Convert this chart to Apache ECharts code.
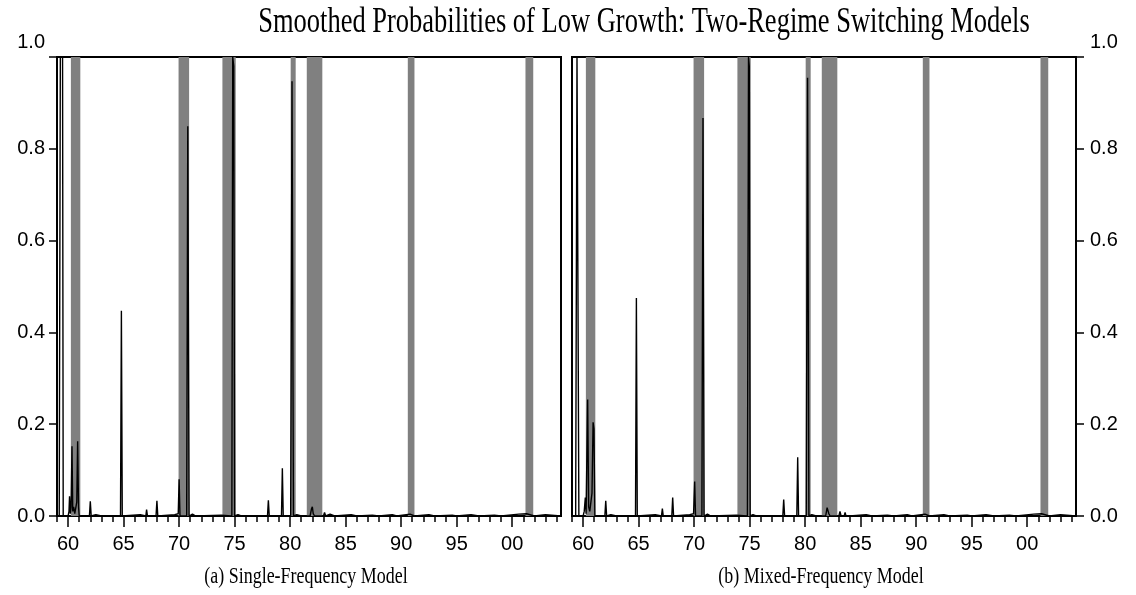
<!DOCTYPE html>
<html>
<head>
<meta charset="utf-8">
<script src="https://cdn.jsdelivr.net/npm/echarts@6/dist/echarts.min.js"></script>
<style>
html, body { margin: 0; padding: 0; background: #fff; }
#chart { width: 1136px; height: 595px; }
</style>
</head>
<body>
<div id="chart"></div>
<script>
// tick years
var majorYears = [1960, 1965, 1970, 1975, 1980, 1985, 1990, 1995, 2000];
var minorYears = [1959, 1960, 1961, 1962, 1963, 1964, 1965, 1966, 1967, 1968, 1969, 1970, 1971, 1972, 1973, 1974, 1975, 1976, 1977, 1978, 1979, 1980, 1981, 1982, 1983, 1984, 1985, 1986, 1987, 1988, 1989, 1990, 1991, 1992, 1993, 1994, 1995, 1996, 1997, 1998, 1999, 2000, 2001, 2002, 2003, 2004];

// shaded recessions [start, end]
var recessions = [[1960.25, 1961.1], [1969.95, 1970.9], [1973.9, 1975.1], [1980.05, 1980.5], [1981.5, 1982.9], [1990.6, 1991.2], [2001.2, 2001.9]];

// smoothed probabilities, (a) single-frequency
var probSingle = [
  [1959.2, 0], [1959.3, 1.0], [1959.5, 1.0], [1959.56, 0],
  [1960.0, 0], [1960.08, 0.01], [1960.13, 0.043], [1960.2, 0.005], [1960.27, 0.02], [1960.35, 0.152], [1960.42, 0.01],
  [1960.5, 0.02], [1960.6, 0.005], [1960.78, 0.03], [1960.86, 0.163], [1960.94, 0.02], [1961.0, 0],
  [1961.92, 0], [1962.0, 0.032], [1962.08, 0], [1962.5, 0.003], [1963.0, 0],
  [1964.72, 0], [1964.8, 0.447], [1964.88, 0],
  [1966.5, 0.003], [1967.0, 0], [1967.07, 0.014], [1967.15, 0],
  [1967.92, 0], [1968.0, 0.033], [1968.08, 0],
  [1969.6, 0.003], [1969.92, 0.005], [1970.0, 0.08], [1970.08, 0],
  [1970.68, 0], [1970.78, 0.849], [1970.9, 0], [1971.2, 0.004], [1971.5, 0],
  [1973.8, 0.002], [1974.75, 0], [1974.83, 1.0], [1974.92, 0.98], [1975.0, 0], [1975.3, 0.003], [1975.6, 0],
  [1977.96, 0], [1978.04, 0.034], [1978.12, 0],
  [1979.22, 0], [1979.3, 0.104], [1979.38, 0],
  [1980.05, 0], [1980.17, 0.947], [1980.3, 0], [1980.6, 0.003], [1981.0, 0],
  [1981.8, 0], [1981.92, 0.015], [1982.0, 0.02], [1982.08, 0.005], [1982.2, 0],
  [1983.0, 0], [1983.1, 0.008], [1983.2, 0], [1983.6, 0.004], [1984.0, 0],
  [1985.5, 0.003], [1986.0, 0], [1987.4, 0.002], [1988.0, 0], [1989.2, 0.003], [1989.6, 0],
  [1990.8, 0.004], [1991.2, 0], [1992.5, 0.003], [1993.0, 0], [1994.6, 0.002], [1995.0, 0],
  [1996.3, 0.003], [1997.0, 0], [1998.4, 0.002], [1999.0, 0], [2000.6, 0.004], [2001.3, 0.005], [2002.0, 0],
  [2003.0, 0.003], [2004.4, 0]
];

// smoothed probabilities, (b) mixed-frequency
var probMixed = [
  [1959.33, 0], [1959.45, 1.0], [1959.55, 1.0], [1959.62, 0],
  [1960.0, 0], [1960.1, 0.01], [1960.2, 0.04], [1960.27, 0.005], [1960.41, 0.254], [1960.5, 0.02],
  [1960.6, 0.01], [1960.8, 0.05], [1960.9, 0.204], [1960.98, 0.19], [1961.06, 0],
  [1961.96, 0], [1962.04, 0.033], [1962.12, 0], [1962.5, 0.003], [1963.0, 0],
  [1964.72, 0], [1964.8, 0.475], [1964.88, 0],
  [1966.5, 0.003], [1967.06, 0], [1967.14, 0.016], [1967.22, 0],
  [1967.99, 0], [1968.07, 0.04], [1968.15, 0],
  [1969.6, 0.003], [1969.95, 0.005], [1970.05, 0.075], [1970.13, 0],
  [1970.7, 0], [1970.8, 0.867], [1970.9, 0], [1971.2, 0.004], [1971.5, 0],
  [1973.8, 0.002], [1974.8, 0], [1974.9, 1.0], [1974.97, 0.98], [1975.05, 0], [1975.3, 0.003], [1975.6, 0],
  [1977.99, 0], [1978.07, 0.036], [1978.15, 0],
  [1979.25, 0], [1979.33, 0.128], [1979.41, 0],
  [1980.1, 0], [1980.22, 0.955], [1980.34, 0], [1980.6, 0.003], [1981.0, 0],
  [1981.85, 0], [1981.98, 0.018], [1982.06, 0.022], [1982.14, 0.005], [1982.25, 0],
  [1983.04, 0], [1983.14, 0.01], [1983.24, 0], [1983.52, 0], [1983.6, 0.008], [1983.68, 0], [1984.0, 0],
  [1985.5, 0.003], [1986.0, 0], [1987.4, 0.002], [1988.0, 0], [1989.2, 0.003], [1989.6, 0],
  [1990.8, 0.004], [1991.2, 0], [1992.5, 0.003], [1993.0, 0], [1994.6, 0.002], [1995.0, 0],
  [1996.3, 0.003], [1997.0, 0], [1998.4, 0.002], [1999.0, 0], [2000.6, 0.004], [2001.3, 0.005], [2002.0, 0],
  [2003.0, 0.003], [2004.4, 0]
];

var xMin = 1959, xMax = 2004.4;
var sansFont = '"Liberation Sans", Arial, sans-serif';
var serifFont = '"Liberation Serif", "Times New Roman", serif';

var bandData = recessions.map(function (r) {
  return [{ xAxis: r[0] }, { xAxis: r[1] }];
});

function yearLabel(v) {
  var s = String(Math.round(v) % 100);
  return s.length < 2 ? '0' + s : s;
}

// the top label sits a little above its tick, as in the original
function probLabel(v) {
  return v >= 1 ? '{top|1.0}' : v.toFixed(1);
}

var grids = [
  { left: 57, top: 57, width: 504, height: 459 },
  { left: 572, top: 57, width: 504, height: 459 }
];

var xAxes = [], yAxes = [], series = [];
grids.forEach(function (g, i) {
  g.show = true;
  g.borderColor = '#000';
  g.borderWidth = 2;
  g.backgroundColor = 'transparent';
  // major ticks and labels
  xAxes.push({
    type: 'value', gridIndex: i, min: xMin, max: xMax, position: 'bottom',
    axisLine: { show: true, onZero: false, lineStyle: { color: '#000', width: 2 } },
    axisTick: { show: true, customValues: majorYears, length: 11, lineStyle: { color: '#000', width: 1.5 } },
    axisLabel: { show: true, customValues: majorYears, formatter: yearLabel, margin: 18,
      color: '#000', fontFamily: sansFont, fontSize: 20 },
    splitLine: { show: false }
  });
  // yearly minor ticks
  xAxes.push({
    type: 'value', gridIndex: i, min: xMin, max: xMax, position: 'bottom',
    axisLine: { show: false, onZero: false },
    axisTick: { show: true, customValues: minorYears, length: 6, lineStyle: { color: '#000', width: 1.5 } },
    axisLabel: { show: false },
    splitLine: { show: false }
  });
  yAxes.push({
    type: 'value', gridIndex: i, min: 0, max: 1, interval: 0.2,
    position: i === 0 ? 'left' : 'right',
    axisLine: { show: true, lineStyle: { color: '#000', width: 2 } },
    axisTick: { show: true, length: 8, lineStyle: { color: '#000', width: 1.5 } },
    axisLabel: { color: '#000', fontFamily: sansFont, fontSize: 20, margin: i === 0 ? 12 : 14,
      formatter: probLabel,
      rich: { top: { color: '#000', fontFamily: sansFont, fontSize: 20, padding: [0, 0, 30, 0] } } },
    splitLine: { show: false }
  });
  series.push({
    type: 'line', xAxisIndex: i * 2, yAxisIndex: i, z: 1,
    data: [[xMin, 0]], showSymbol: false, symbol: 'none',
    lineStyle: { width: 0, opacity: 0 },
    silent: true,
    markArea: { silent: true, itemStyle: { color: '#808080', opacity: 1 }, data: bandData }
  });
  series.push({
    type: 'line', xAxisIndex: i * 2, yAxisIndex: i, z: 3,
    data: i === 0 ? probSingle : probMixed,
    showSymbol: false, symbol: 'none',
    lineStyle: { color: '#000', width: 1.4 },
    animation: false
  });
});

var chart = echarts.init(document.getElementById('chart'), null, { renderer: 'canvas' });
chart.setOption({
  animation: false,
  backgroundColor: '#fff',
  grid: grids,
  xAxis: xAxes,
  yAxis: yAxes,
  series: series,
  graphic: [
    { type: 'text', x: 644, y: 23, scaleX: 0.757, silent: true,
      style: { text: 'Smoothed Probabilities of Low Growth: Two-Regime Switching Models', x: 0, y: 0,
        font: '35px ' + serifFont, fill: '#000', textAlign: 'center', textVerticalAlign: 'middle', align: 'center', verticalAlign: 'middle' } },
    { type: 'text', x: 306, y: 577, scaleX: 0.78, silent: true,
      style: { text: '(a) Single-Frequency Model', x: 0, y: 0,
        font: '23px ' + serifFont, fill: '#000', textAlign: 'center', textVerticalAlign: 'middle', align: 'center', verticalAlign: 'middle' } },
    { type: 'text', x: 821, y: 577, scaleX: 0.78, silent: true,
      style: { text: '(b) Mixed-Frequency Model', x: 0, y: 0,
        font: '23px ' + serifFont, fill: '#000', textAlign: 'center', textVerticalAlign: 'middle', align: 'center', verticalAlign: 'middle' } }
  ]
});
</script>
</body>
</html>
